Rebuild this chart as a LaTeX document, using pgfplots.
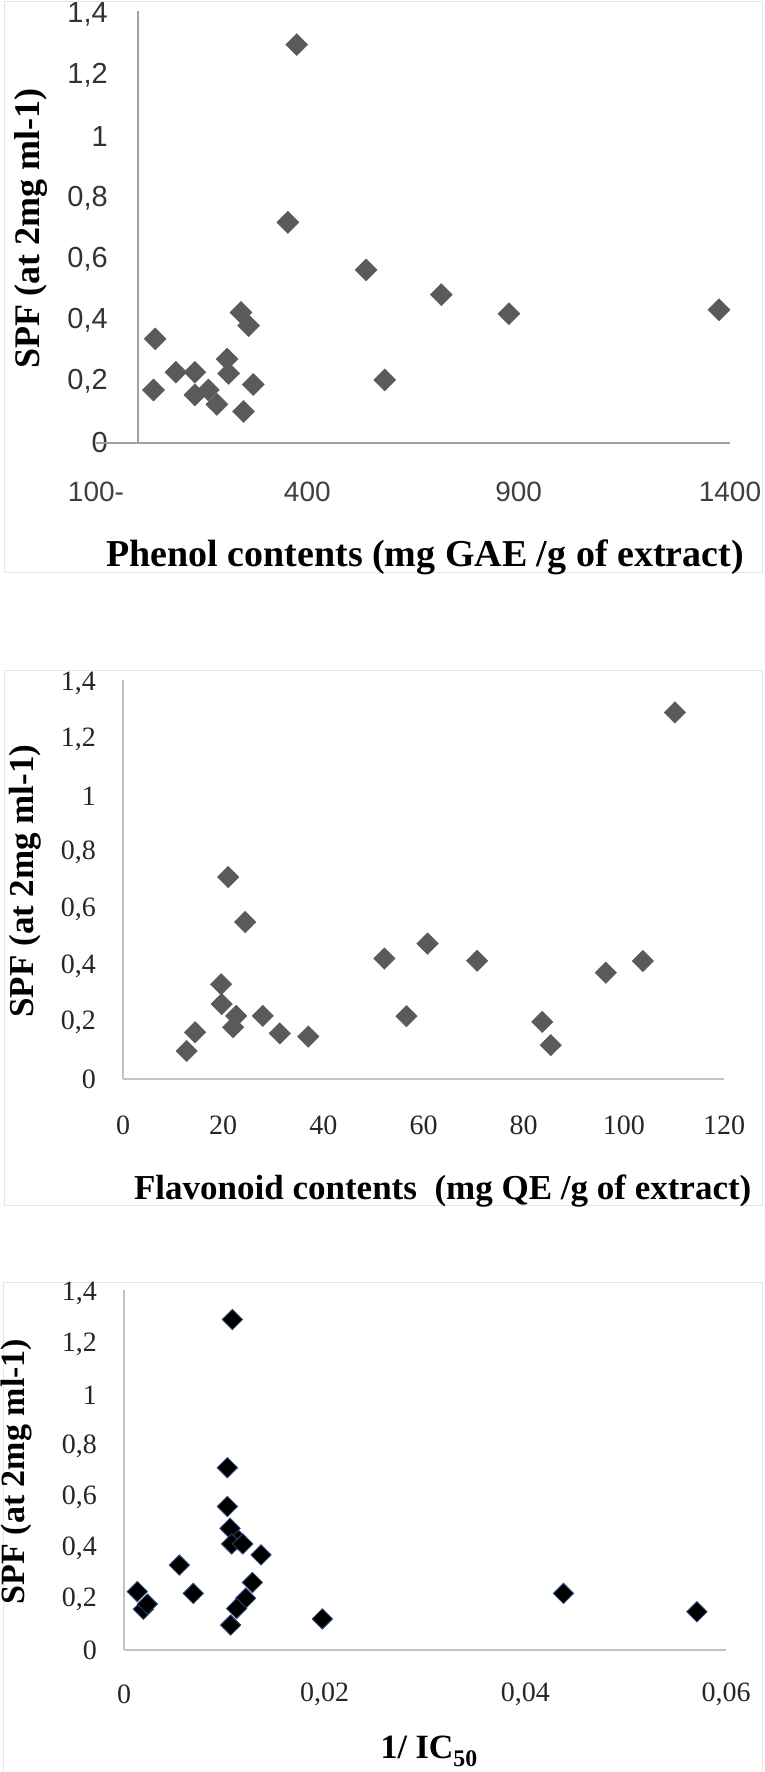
\documentclass[border=0pt]{standalone}
\usepackage{fontspec}
\setmainfont{Liberation Serif}
\newfontfamily\arial{Liberation Sans}
\usepackage{pgfplots}
\pgfplotsset{compat=1.18}
\definecolor{markgray}{RGB}{90,90,90}
\definecolor{axgray}{RGB}{160,160,160}
\definecolor{axlight}{RGB}{195,195,195}
\definecolor{edgeblue}{RGB}{45,75,125}

\pgfplotsset{
  spf/.style={
    scale only axis, clip=false, anchor=south west,
    axis line style={draw=none}, major tick length=0pt,
    scaled x ticks=false, scaled y ticks=false,
    ymin=0, ymax=1.4,
    ytick={0,0.2,0.4,0.6,0.8,1,1.2,1.4},
    yticklabels={0,{0,2},{0,4},{0,6},{0,8},1,{1,2},{1,4}},
    ylabel={SPF (at 2mg ml-1)},
  },
  serifticks/.style={
    xticklabel style={font=\fontsize{28}{30}\selectfont, text=black!85, anchor=center, inner sep=0pt, yshift=#1},
    yticklabel style={font=\fontsize{28}{30}\selectfont, text=black!85, anchor=east, inner sep=0pt, xshift=-27pt},
  },
}

\begin{document}
\begin{tikzpicture}[x=1pt,y=1pt]
\useasboundingbox (0,0) rectangle (764,-1772);
% light frames round the three charts
\draw[black!10, line width=1pt] (4,-1) rectangle (762,-572);
\draw[black!10, line width=1pt] (4,-670) rectangle (762,-1205);
\draw[black!10, line width=1pt] (3,-1282) -- (3,-1772) (3,-1282) -- (762,-1282) -- (762,-1772);

% ---------- phenol contents ----------
\begin{axis}[spf,
  at={(96pt,-443pt)}, width=634pt, height=429pt,
  xmin=-100, xmax=1400,
  xtick={-100,400,900,1400}, xticklabels={100-,400,900,1400},
  xticklabel style={font=\arial\fontsize{28}{30}\selectfont, text=black!75, anchor=center, inner sep=0pt, yshift=-49pt},
  yticklabel style={font=\arial\fontsize{29}{31}\selectfont, text=black!80, anchor=east, inner sep=0pt, xshift=12pt},
  xlabel={Phenol contents (mg GAE /g of extract)},
  xlabel style={font=\bfseries\fontsize{38}{40}\selectfont, at={(axis description cs:0.519,-0.2867)}, anchor=base},
  ylabel style={font=\bfseries\fontsize{36}{38}\selectfont, at={(axis description cs:-0.1025,0.5)}, anchor=center},
]
\draw[axgray, line width=2pt] (axis cs:-100,0) -- (axis cs:1400,0);
\draw[axgray, line width=2pt] (axis cs:0,0) -- (axis cs:0,1.41);
\addplot[only marks, mark=square*, mark size=7.8pt, mark options={rotate=45, fill=markgray, draw=markgray}] coordinates {
 (375,1.30) (354,0.72) (539,0.565) (717,0.484) (877,0.422) (1374,0.435)
 (583,0.206) (40,0.34) (36,0.173) (89,0.231) (134,0.231) (134,0.157)
 (166,0.173) (186,0.126) (210,0.274) (214,0.227) (243,0.426) (261,0.383)
 (249,0.103) (272,0.191)
};
\end{axis}

% ---------- flavonoid contents ----------
\begin{axis}[spf, serifticks=-46pt,
  at={(123pt,-1079pt)}, width=601pt, height=396pt,
  xmin=0, xmax=120,
  xtick={0,20,40,60,80,100,120}, xticklabels={0,20,40,60,80,100,120},
  xlabel={Flavonoid contents\ \ (mg QE /g of extract)},
  xlabel style={font=\bfseries\fontsize{35}{38}\selectfont, at={(axis description cs:0.532,-0.303)}, anchor=base},
  ylabel style={font=\bfseries\fontsize{35}{38}\selectfont, at={(axis description cs:-0.163,0.5)}, anchor=center},
]
\draw[axlight, line width=2.5pt] (axis cs:0,0) -- (axis cs:120,0);
\draw[axlight, line width=2.5pt] (axis cs:0,0) -- (axis cs:0,1.41);
\addplot[only marks, mark=square*, mark size=7.6pt, mark options={rotate=45, fill=markgray, draw=markgray}] coordinates {
 (12.7,0.099) (14.4,0.165) (19.6,0.335) (19.7,0.265) (21.0,0.714)
 (22.6,0.223) (22.0,0.183) (24.4,0.555) (27.9,0.223) (31.3,0.161)
 (37.0,0.150) (52.2,0.426) (56.6,0.222) (60.8,0.479) (70.7,0.418)
 (83.7,0.202) (85.4,0.120) (96.4,0.376) (103.8,0.417) (110.2,1.296)
};
\end{axis}

% ---------- 1/IC50 ----------
\begin{axis}[spf, serifticks=-44pt,
  at={(124pt,-1650pt)}, width=602pt, height=357pt,
  xmin=0, xmax=0.06,
  xtick={0,0.02,0.04,0.06}, xticklabels={0,{0,02},{0,04},{0,06}},
  xlabel={1/ IC\textsubscript{50}},
  xlabel style={font=\bfseries\fontsize{34}{36}\selectfont, at={(axis description cs:0.507,-0.305)}, anchor=base},
  ylabel style={font=\bfseries\fontsize{34}{36}\selectfont, at={(axis description cs:-0.178,0.5)}, anchor=center},
]
\draw[axlight, line width=2.5pt] (axis cs:0,0) -- (axis cs:0.06,0);
\draw[axlight, line width=2.5pt] (axis cs:0,0) -- (axis cs:0,1.41);
\addplot[only marks, mark=square*, mark size=7.2pt, mark options={rotate=45, fill=black, draw=edgeblue, line width=0.8pt}] coordinates {
 (0.0113,0.435) (0.0108,1.296) (0.0103,0.715) (0.0103,0.563) (0.01057,0.477)
 (0.01073,0.416) (0.01183,0.416) (0.01366,0.373) (0.0128,0.265)
 (0.01213,0.203) (0.01123,0.163) (0.01063,0.098) (0.00552,0.333)
 (0.0069,0.222) (0.00133,0.229) (0.00193,0.160) (0.00233,0.180)
 (0.01977,0.122) (0.0438,0.222) (0.0571,0.150)
};
\end{axis}
\end{tikzpicture}
\end{document}
